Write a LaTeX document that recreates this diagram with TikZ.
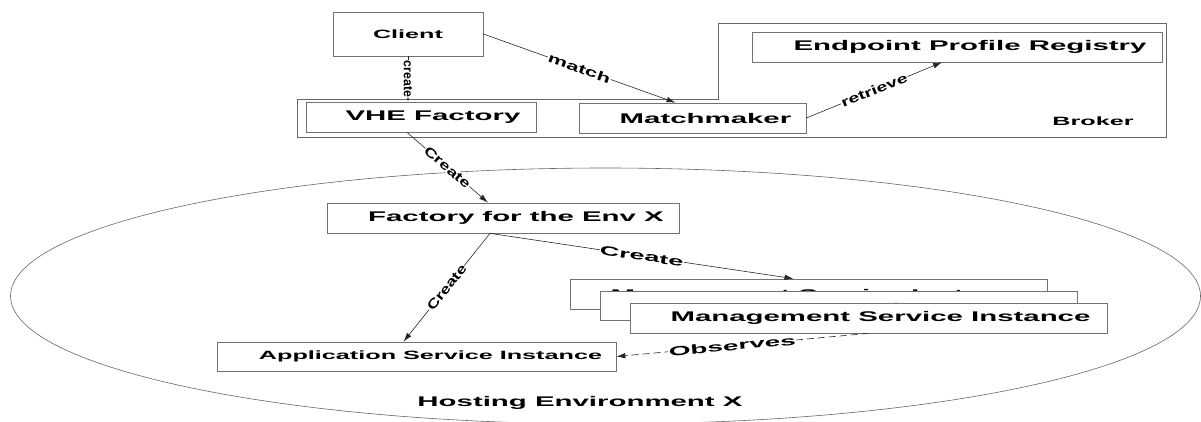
\documentclass[tikz,border=0pt]{standalone}
\usepackage{fontspec}
\setmainfont{Liberation Sans}
\newfontfamily\bxf{Liberation Sans}[FakeStretch=2.1]
\newfontfamily\lbf{Liberation Sans}
\usetikzlibrary{arrows.meta,calc}
\newcommand\bxsh[1]{\hspace*{#1pt}}
\begin{document}
\begin{tikzpicture}[x=1pt,y=-1pt,
  box/.style={draw=black!55, line width=0.7pt, fill=white, inner sep=0pt,
    font=\bxf\bfseries\fontsize{14}{14}\selectfont},
  smallbox/.style={box, font=\bxf\bfseries\fontsize{12}{12}\selectfont},
  conn/.style={draw=black!85, line width=0.6pt, -{Latex[length=9pt,width=5.5pt]}},
  lbl/.style={sloped, fill=white, inner sep=0.6pt, font=\lbf\bfseries\fontsize{13}{13}\selectfont},
  plain/.style={font=\bxf\bfseries\fontsize{14}{14}\selectfont},
]
\useasboundingbox (0,0) rectangle (1201,421);
% hosting environment
\draw[black!60, line width=0.6pt] (605.5,296) ellipse [x radius=595pt, y radius=128pt];
\node[plain] (host) at (580,403) {Hosting Environment X};
% broker outline
\draw[black!60, line width=0.7pt] (297,99) -- (718,99) -- (718,23) -- (1166,23) -- (1166,137) -- (297,137) -- cycle;
\node[font=\bxf\bfseries\fontsize{12}{12}\selectfont] (broker) at (1093,121) {Broker};
% boxes
\node[smallbox, minimum width=150pt, minimum height=44pt] (client) at (408,34) {Client};
\node[box, minimum width=230pt, minimum height=30pt] (vhe) at (421,117) {\bxsh{24}VHE Factory};
\node[box, minimum width=227pt, minimum height=30pt] (mm) at (692.5,118) {\bxsh{26}Matchmaker};
\node[box, minimum width=410pt, minimum height=30pt] (epr) at (957,47) {\bxsh{26}Endpoint Profile Registry};
\node[box, minimum width=352pt, minimum height=30pt] (fac) at (503,218) {\bxsh{26}Factory for the Env X};
\node[smallbox, minimum width=399pt, minimum height=29pt] (app) at (416.5,356.5) {\bxsh{28}Application Service Instance};
\node[box, minimum width=477pt, minimum height=30pt] (msia) at (808.5,294) {\bxsh{24}\raisebox{-5pt}[0pt][0pt]{Management Service Instance}};
\node[box, minimum width=477pt, minimum height=29pt] (msib) at (838.5,305.5) {\bxsh{24}\raisebox{-8pt}[0pt][0pt]{Management Service Instance}};
\node[box, minimum width=477pt, minimum height=30pt] (msic) at (868.5,318) {\bxsh{24}Management Service Instance};
% connectors
\draw[conn] (client.south) -- node[lbl, pos=.5] {\scalebox{0.95}[1]{create}} ([xshift=-13pt]vhe.north);
\draw[conn] (client.east) -- node[lbl, pos=.5] {\scalebox{1.7}[1]{match}} ([xshift=-17pt]mm.north);
\draw[conn] (mm.east) -- node[lbl, pos=.5] {\scalebox{1.5}[1]{retrieve}} ([xshift=-15pt]epr.south);
\draw[conn] ([xshift=-14pt]vhe.south) -- node[lbl, pos=.5] {\scalebox{1.4}[1]{Create}} ([xshift=-15pt]fac.north);
\draw[conn] ([xshift=-13pt]fac.south) -- node[lbl, pos=.5] {\scalebox{1.36}[1]{Create}} ([xshift=-13pt]app.north);
\draw[conn] ([xshift=-13pt]fac.south) -- node[lbl, pos=.5] {\scalebox{2.08}[1]{Create}} ([xshift=-15pt]msia.north);
\draw[conn, dash pattern=on 7pt off 4pt] (msic.south) -- node[lbl, pos=.54] {\scalebox{2.15}[1]{Observes}} (app.east);
\end{tikzpicture}
\end{document}
